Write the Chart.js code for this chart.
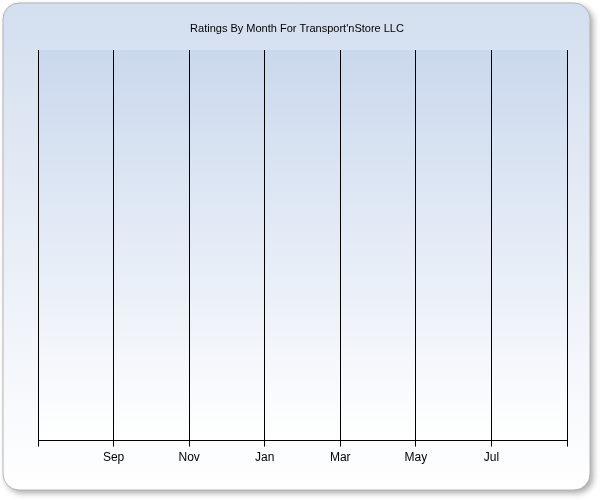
<!DOCTYPE html>
<html>
<head>
<meta charset="utf-8">
<script src="https://cdn.jsdelivr.net/npm/chart.js@4/dist/chart.umd.min.js"></script>
<style>
  html, body { margin: 0; padding: 0; background: #fff; }
  #wrap { width: 600px; height: 500px; }
</style>
</head>
<body>
<div id="wrap"><canvas id="chart" width="600" height="500"></canvas></div>
<script>
const chartTitle = "Ratings By Month For Transport'nStore LLC";
// one tick per month, Jul through next Sep; only every other one is labelled
const monthTicks = ['', 'Sep', 'Nov', 'Jan', 'Mar', 'May', 'Jul', ''];
const ratings = []; // no ratings recorded

// rounded panel with gradient and drop shadow behind everything
const panelBackground = {
    id: 'panelBackground',
    beforeDraw(chart) {
        const ctx = chart.ctx;
        const x = 3, y = 3, w = 587, h = 487, r = 16;
        ctx.save();
        ctx.shadowColor = 'rgba(0,0,0,0.35)';
        ctx.shadowBlur = 6;
        ctx.shadowOffsetX = 3;
        ctx.shadowOffsetY = 3;
        const grad = ctx.createLinearGradient(0, y, 0, y + h);
        grad.addColorStop(0, '#d3deef');
        grad.addColorStop(1, '#ffffff');
        ctx.fillStyle = grad;
        ctx.beginPath();
        ctx.roundRect(x, y, w, h, r);
        ctx.fill();
        ctx.shadowColor = 'transparent';
        ctx.strokeStyle = '#b4b4b4';
        ctx.lineWidth = 1;
        ctx.stroke();

        const a = chart.chartArea;
        const g2 = ctx.createLinearGradient(0, a.top, 0, a.bottom);
        g2.addColorStop(0, '#cad8ed');
        g2.addColorStop(1, '#ffffff');
        ctx.fillStyle = g2;
        ctx.fillRect(a.left, a.top, a.right - a.left, a.bottom - a.top);

        ctx.fillStyle = '#000';
        ctx.font = '11px "Liberation Sans", Arial, sans-serif';
        ctx.textAlign = 'center';
        ctx.textBaseline = 'middle';
        ctx.fillText(chartTitle, 297, 29);
        ctx.restore();
    }
};

new Chart(document.getElementById('chart').getContext('2d'), {
    type: 'line',
    data: {
        datasets: [{ label: 'Rating', data: ratings, borderColor: '#000' }]
    },
    options: {
        responsive: false,
        animation: false,
        layout: { padding: { left: 38, right: 33, top: 50, bottom: 31 } },
        plugins: { legend: { display: false }, tooltip: { enabled: false } },
        scales: {
            x: {
                type: 'linear',
                min: 0,
                max: monthTicks.length - 1,
                ticks: {
                    stepSize: 1,
                    color: '#000',
                    font: { family: '"Liberation Sans", Arial, sans-serif', size: 12 },
                    padding: 4,
                    maxRotation: 0,
                    autoSkip: false,
                    callback: (v) => monthTicks[v] || ''
                },
                grid: { color: '#000', lineWidth: 1, tickLength: 6 },
                border: { color: '#000' }
            },
            y: { display: false, min: 0, max: 5 }
        }
    },
    plugins: [panelBackground]
});
</script>
</body>
</html>
